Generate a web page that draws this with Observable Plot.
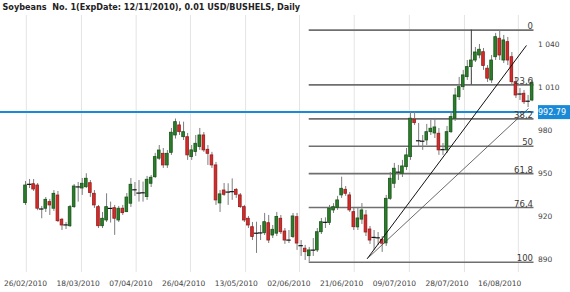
<!DOCTYPE html>
<html><head><meta charset="utf-8">
<script src="https://cdn.jsdelivr.net/npm/d3@7"></script>
<script src="https://cdn.jsdelivr.net/npm/@observablehq/plot@0.6"></script>
<style>
body{margin:0;background:#fff;}
#chart{width:570px;height:292px;}
</style></head><body><div id="chart"></div>
<script>
const title = "Soybeans  No. 1(ExpDate: 12/11/2010), 0.01 USD/BUSHELS, Daily";

const open = [929.3,942.8,942.5,941.6,925.6,925.4,930,925.4,934.6,917.7,
914.3,913.2,926.5,940.4,939.5,940.4,943.2,935.8,926.5,913.2,
917.2,925.9,925.8,917.2,925.4,923,928.9,938.8,936.5,936.2,
933.5,942.8,947.4,960.3,963.7,955.6,964.4,976.5,983.5,975.3,
975.3,961.4,964.9,968.4,976.5,966.5,962.6,955.6,929.1,938.1,
937.2,937,938.4,934.7,926.5,918.4,912.5,908.5,908.3,908.3,
915.3,906.7,908,918.4,909.5,903.8,905.6,919.5,899.8,897.5,
892.3,896.3,896.3,909,915.7,915.4,924.2,926,934.7,938.6,
934.7,923,912.4,917.8,920.7,910.9,905.6,904.9,903.7,901.2,
932.3,942.8,950.7,949.8,954.4,961.4,987.5,973,972.3,973,
978.8,977.9,977.7,966.8,966.1,978.8,988.2,1003.2,1010.2,1017.2,
1024.2,1028.8,1032.3,1034.6,1023.1,1014.9,1031.1,1044,1028.8,1041.6,
1031.1,1013.7,1005.6,1005.6,1000.2,1000.9];
const high = [944.4,945.8,945.8,943,927,933.2,931.9,938,937.4,918.6,
915.8,927.7,942.3,943.7,946.5,949.8,945.1,938.1,927.7,922.8,
935.8,930,927.7,927,927.7,936,946.5,943.7,945.1,944,
947.9,948.6,964,969.5,967.4,966,981.4,988,986,985.8,
977.9,969.5,976.5,981.4,978.6,969.5,964.7,957.7,938.1,943,
942.8,946.2,939.5,936,927.7,920,915.8,916,913.7,922.1,
920.7,913.7,922.8,920.7,911.6,910.2,922.1,922.1,903.2,899.8,
898.4,904.6,911.6,918.6,919,927.7,928.9,934,947.4,940.9,
936.7,925.6,926.3,929,924.2,913,910.2,908.8,906,934.7,
950.7,957,955.6,959.1,967.4,992.6,992.8,984.9,976.5,984.2,
987,988.4,981.4,970.9,982.8,992.6,1009.3,1017,1021.9,1028.8,
1032.3,1037.9,1040,1037.2,1025.3,1032.3,1047.7,1049.5,1046.3,1044.9,
1034.4,1016.3,1009.3,1007.9,1004.4,1016.3];
const low = [927.7,939.5,937.4,924,918.4,922.8,920.7,923.5,915.8,910.2,
910.9,912.3,925.6,930,934.7,939.5,933.3,925.6,911.6,911.6,
915.8,915.4,906.8,915.8,920.7,922.8,926.3,934,930,930,
931.2,940.2,946.5,959.1,953.5,953.5,962.6,974,976.5,973,
959.1,959.1,961.9,966.1,964.7,955.6,953.5,927.7,922.8,934,
927.7,931.2,932.6,925.6,915.8,911.6,903.2,894.2,903.2,906.7,
901.1,904.6,906,907.4,900.5,901.1,904.6,896.3,892.1,889.3,
888.2,892.1,894.9,907.4,911.6,913.7,922.1,924.2,932.6,934,
922.8,910.2,910.2,914.4,906,900.5,896.3,899.8,894.9,899.1,
931.2,939.5,945.1,947.2,952.1,959.1,983.5,968.1,966.1,969.5,
976.5,974.4,962.6,962.6,963.9,977.9,986.3,1000.9,1007.9,1014.9,
1021.9,1027.4,1030,1021.9,1013.5,1012.8,1028.8,1028.8,1026.7,1025.3,
1011.4,1002.3,1000.9,998.1,996,1000];
const close = [941.6,942.4,938.8,925.4,925.2,931.6,927.7,935.8,916.7,913.7,
914.1,926.5,940.9,940.6,942.8,946.3,936.3,927.7,913.2,918.4,
926.5,925.6,918.4,925.4,922.3,933.2,942.1,938.6,936.3,936.5,
945.6,947,961.4,966,955.6,963.7,978.4,985.8,978.8,978.8,
962.6,966.1,970.7,976.5,966.1,963.7,955.6,931.2,935.4,935.1,
937,937.3,935.1,926.5,917.2,913.7,905.6,908.3,908.5,916,
903.2,910.7,919.6,909,903.2,903.5,920,901.1,899.6,895.1,
896.3,896.5,909,916,915.9,925.4,926.5,931.2,939.3,935.8,
924.2,912.5,918.6,924.2,908.8,903.2,905.4,905.1,901,932.3,
946.3,953.3,950.9,954.9,962.6,988.2,985.1,972.8,972.5,978.8,
981.2,982.1,966.1,966.6,978.8,989.3,1004.4,1010.2,1018.4,1024.2,
1028.8,1034.4,1036.3,1024.9,1016.1,1028.8,1045.1,1032.3,1042.8,1028.8,
1013.7,1004.4,1005.4,999.7,1000.4,1013.3];

const dateTickIndex = [0,13,26,39,52,65,78,91,104,117];
const dateTickLabels = ["26/02/2010","18/03/2010","07/04/2010","26/04/2010","13/05/2010","02/06/2010","21/06/2010","09/07/2010","28/07/2010","16/08/2010"];
const gridIndex = [0.2,13.8,27.3,40.7,54.3,67.6,81.1,94.7,108.3,121.6];
const priceTicks = [890,920,950,980,1010,1040];
const fibLabels = ["0","23,6","38,2","50","61,8","76,4","100"];
const fibLevels = [1050,1011.8,988.1,969,949.9,926.2,888];
const fibStartIndex = 70;
const fibEndIndex = 125.46;
const fibMarkIndex = 110;
const fanStartIndex = 84.3, fanStartPrice = 890.5;
const fanEndIndex = [123.6,124.1];
const fanEndPrice = [1039.3,995.3];
const lastPrice = 992.79;

const candles = open.map((o,i)=>({i,o,h:high[i],l:low[i],c:close[i]}));
const bodies = candles.filter(d=>Math.abs(d.c-d.o)>0.5);
const dojis = candles.filter(d=>Math.abs(d.c-d.o)<=0.5);
const fib = fibLevels.map((v,k)=>({v,label:fibLabels[k]}));
const fans = fanEndIndex.map((x,k)=>({x,p:fanEndPrice[k],k}));

const GREEN="#2b7d2b", GREEN_S="#175417", RED="#d42b2b", RED_S="#981c1c";
const BLUE="#1b8ad6";
const fontFam = "'DejaVu Sans', Verdana, sans-serif";

const chart = Plot.plot({
  width:570, height:292,
  marginTop:15, marginBottom:20, marginLeft:0, marginRight:36.5,
  x:{domain:[-6.17,125.46]},
  y:{domain:[880.9,1060.2]},
  style:{fontFamily:fontFam, background:"white", overflow:"visible"},
  marks:[
    Plot.ruleX(gridIndex,{stroke:"#e4e4e4", strokeWidth:1}),
    Plot.ruleY(fib,{y:"v", x1:fibStartIndex, x2:fibEndIndex, stroke:"#6f6f6f", strokeWidth:1.6}),
    Plot.ruleX([fibMarkIndex],{y1:fibLevels[0], y2:fibLevels[1], stroke:"#3a3a3a", strokeWidth:1}),
    Plot.ruleY([lastPrice],{stroke:BLUE, strokeWidth:2}),
    Plot.ruleX(candles,{x:"i", y1:"l", y2:"h", stroke:"#7d7d7d", strokeWidth:1}),
    Plot.rect(bodies,{x1:d=>d.i-0.33, x2:d=>d.i+0.33, y1:"o", y2:"c",
      fill:d=>d.c>d.o?GREEN:RED, stroke:d=>d.c>d.o?GREEN_S:RED_S, strokeWidth:0.8}),
    Plot.ruleY(dojis,{y:"c", x1:d=>d.i-0.55, x2:d=>d.i+0.55, stroke:"#111", strokeWidth:1.2}),
    Plot.link(fans,{x1:fanStartIndex, y1:fanStartPrice, x2:"x", y2:"p",
      stroke:d=>d.k===0?"#111":"#444", strokeWidth:d=>d.k===0?1:0.8}),
    Plot.text(fib,{x:fibEndIndex, y:"v", text:"label", textAnchor:"end", lineAnchor:"bottom",
      dx:-1, dy:-1, fontSize:8.5, fill:"#3a3a3a"}),
    Plot.axisY(priceTicks,{anchor:"right", tickSize:0, tickPadding:4, fontSize:7.5, fill:"#444",
      tickFormat:d=>d3.format(",")(d).replace(","," ")}),
    Plot.axisX(dateTickIndex,{anchor:"bottom", tickSize:0, tickPadding:8, fontSize:7.5, fill:"#444",
      tickFormat:d=>dateTickLabels[dateTickIndex.indexOf(d)]}),
    Plot.text([lastPrice],{y:d=>d, frameAnchor:"right", textAnchor:"start", dx:4,
      text:d=>d.toFixed(2), fill:"white", fontSize:8, className:"lastlabel"}),
    Plot.text([title],{frameAnchor:"top-left", dx:2, dy:-8, textAnchor:"start", lineAnchor:"middle",
      fontWeight:"bold", fontSize:9, fill:"#222",
      fontFamily:"'DejaVu Sans Condensed', 'DejaVu Sans', sans-serif", className:"charttitle"})
  ]
});
document.getElementById("chart").appendChild(chart);
d3.select(chart).selectAll("g.charttitle text").style("font-stretch","condensed");

// background box for last-price label, positioned through the chart's scales
const yPix = chart.scale("y").apply(lastPrice);
const xEdge = chart.scale("x").apply(fibEndIndex);
const g = d3.select(chart).select("g.lastlabel");
if (!g.empty()) {
  g.insert("rect","text")
    .attr("x", xEdge).attr("y", yPix - 7)
    .attr("width", 570 - xEdge - 1).attr("height", 14)
    .attr("fill", BLUE);
}
</script></body></html>
